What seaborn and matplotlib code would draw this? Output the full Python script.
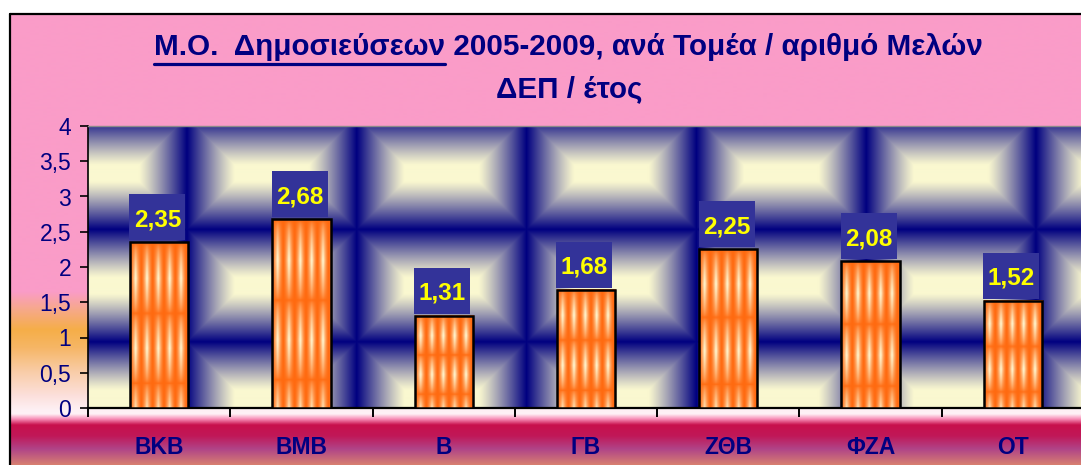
import numpy as np
import matplotlib
matplotlib.use("Agg")
import matplotlib.pyplot as plt
import seaborn as sns
from matplotlib.colors import to_rgb
from matplotlib.lines import Line2D
from matplotlib.patches import Rectangle
from matplotlib.ticker import FuncFormatter

# -------------------------
# Data
# -------------------------
categories = ["ΒΚΒ", "ΒΜΒ", "Β", "ΓΒ", "ΖΘΒ", "ΦΖΑ", "ΟΤ"]
values = [2.35, 2.68, 1.31, 1.68, 2.25, 2.08, 1.52]
yticks = [0, 0.5, 1, 1.5, 2, 2.5, 3, 3.5, 4]
title_underlined = "Μ.Ο.  Δημοσιεύσεων"
title_rest = " 2005-2009, ανά Τομέα / αριθμό Μελών"
title_line2 = "ΔΕΠ / έτος"

NAVY = "#000080"
W, H = 1081, 465
# plot area in pixels (right edge runs past the picture, as in the original)
AX_L, AX_R, AX_T, AX_B = 88, 1084, 126, 408
PX_X = (AX_R - AX_L) / 7.0      # pixels per category
PX_Y = (AX_B - AX_T) / 4.0      # pixels per y unit

sns.set_theme(style="white")
plt.rcParams["font.family"] = ["Liberation Sans", "DejaVu Sans"]

fig = plt.figure(figsize=(W / 100, H / 100), dpi=100, facecolor="white")


def mix(c1, c2, s):
    c1 = np.array(to_rgb(c1))
    c2 = np.array(to_rgb(c2))
    s = np.asarray(s)[..., None]
    return c1 * (1 - s) + c2 * s


# -------------------------
# Chart area: vertical gradient fill + border
# -------------------------
bg = fig.add_axes([0, 0, 1, 1])
bg.set_xlim(0, W)
bg.set_ylim(H, 0)
bg.axis("off")

stops = [(14, "#FA9CC8"), (292, "#FA9CC8"), (308, "#F7A890"), (330, "#F5AE48"),
         (348, "#F6B666"), (372, "#F9CDA8"), (396, "#FCE0DC"), (410, "#FEF0F4"),
         (414, "#FFF2F6"), (419, "#F890B8"), (425, "#C8104C"), (436, "#C01858"),
         (449, "#B04488"), (465, "#D88070")]
rows = np.arange(14, H) + 0.5
sy = np.array([s[0] for s in stops], dtype=float)
cols = np.array([to_rgb(s[1]) for s in stops])
grad = np.stack([np.interp(rows, sy, cols[:, k]) for k in range(3)], axis=-1)
bg.imshow(grad[:, None, :], extent=(10, W, H, 14), aspect="auto", interpolation="bilinear")
bg.add_line(Line2D([10, W], [14, 14], color="black", lw=1.6))
bg.add_line(Line2D([10, 10], [14, H], color="black", lw=1.6))

# -------------------------
# Title (first part underlined)
# -------------------------
tkw = dict(fontsize=21.3, fontweight="bold", color=NAVY, va="center", ha="center")
t1 = bg.text(568, 47, title_underlined + title_rest, **tkw)
bg.text(569, 89, title_line2, **tkw)
fig.canvas.draw()
rend = fig.canvas.get_renderer()
tmp = bg.text(0, 0, title_underlined, **tkw)
pre_w = tmp.get_window_extent(rend).width
tmp.remove()
x0 = t1.get_window_extent(rend).x0
bg.add_line(Line2D([x0, x0 + pre_w], [64.5, 64.5], color=NAVY, lw=2.3))

# -------------------------
# Plot area
# -------------------------
ax = fig.add_axes([AX_L / W, (H - AX_B) / H, (AX_R - AX_L) / W, (AX_B - AX_T) / H])
ax.set_facecolor("none")

# tiled "pillow" texture of the plot area
px_x = AX_L + np.arange(AX_R - AX_L) + 0.5
px_y = AX_T + np.arange(AX_B - AX_T) + 0.5
tw, th = 169.8, 112.0
fx = ((px_x - 187) % tw)
fy = ((px_y - 230) % th)
dx = np.minimum(fx, tw - fx)[None, :]
dy = np.minimum(fy, th - fy)[:, None]
dist = np.minimum(dx, dy)
s = (1 - np.clip(dist / 48.0, 0, 1)) ** 1.15
tiles = mix("#FAF8D0", NAVY, s)
ax.imshow(tiles, extent=(-0.5, 6.5, 0, 4), aspect="auto", zorder=0,
          interpolation="bilinear")

sns.barplot(x=categories, y=values, ax=ax, color="#FF6A10", edgecolor="black",
            linewidth=1.8, width=0.41, zorder=3)

# striped orange texture inside each bar
for patch in ax.patches:
    bx, bw, bh = patch.get_x(), patch.get_width(), patch.get_height()
    nr = max(int(bh * PX_Y), 2)
    nc = 120
    u = (np.arange(nc) + 0.5) / nc
    t = 1 - (np.arange(nr) + 0.5) / nr
    fu = (u * 5.2) % 1
    lx = (1 - np.abs(2 * fu - 1)) ** 1.5
    fv = ((t - 0.15) / 0.42) % 1
    ly = (1 - np.abs(2 * fv - 1)) ** 0.6
    light = np.clip(ly[:, None] * lx[None, :] * 1.1, 0, 1)
    tex = mix("#FF6A10", "#FFF4CC", light)
    ax.imshow(tex, extent=(bx, bx + bw, 0, bh), aspect="auto", zorder=3.5,
              interpolation="bilinear")
    patch.set_facecolor("none")
    patch.set_zorder(4)

# value labels: yellow on a blue box sitting on the bar
for patch, v in zip(ax.patches, values):
    bx, bw, bh = patch.get_x(), patch.get_width(), patch.get_height()
    box_w = 56 / PX_X
    box_h = 46 / PX_Y
    gap = 2 / PX_Y
    ax.add_patch(Rectangle((bx - 0.5 / PX_X, bh + gap), box_w, box_h,
                           fc="#333399", ec="none", zorder=5))
    ax.text(bx - 0.5 / PX_X + box_w / 2, bh + gap + box_h / 2,
            f"{v:.2f}".replace(".", ","), ha="center", va="center_baseline",
            color="#FFFF00", fontsize=17.5, fontweight="bold", zorder=6)

ax.set_xlim(-0.5, 6.5)
ax.set_ylim(0, 4)
ax.set_yticks(yticks)
ax.yaxis.set_major_formatter(FuncFormatter(lambda v, _: f"{v:g}".replace(".", ",")))
ax.set_xticks(np.arange(-0.5, 7, 1), minor=True)
ax.set_xlabel("")
ax.set_ylabel("")

ax.tick_params(axis="y", which="major", left=True, length=6, width=1.2, color="black",
               labelsize=16.5, labelcolor=NAVY, pad=6)
ax.tick_params(axis="x", which="major", bottom=True, length=0, labelsize=16.5,
               labelcolor=NAVY, pad=20)
ax.tick_params(axis="x", which="minor", bottom=True, length=6.5, width=1.4, color="black")
for lbl in ax.get_xticklabels():
    lbl.set_fontweight("bold")

ax.spines["left"].set_color("black")
ax.spines["left"].set_linewidth(1.2)
ax.spines["bottom"].set_color("black")
ax.spines["bottom"].set_linewidth(1.6)
ax.spines["top"].set_color("#8A8A8A")
ax.spines["top"].set_linewidth(1.0)
ax.spines["right"].set_visible(False)
ax.grid(False)

fig.savefig("out.png", dpi=100, facecolor="white")
